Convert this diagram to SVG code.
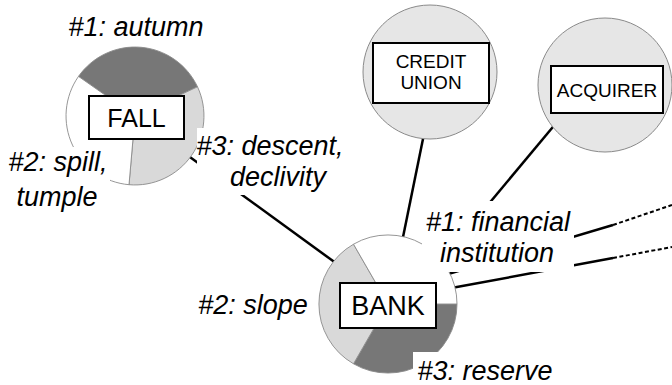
<svg xmlns="http://www.w3.org/2000/svg" width="672" height="385" viewBox="0 0 672 385">
<style>
  .bg{fill:#fff}
  .sec{stroke:#8a8a8a;stroke-width:0.9}
  .dark{fill:#777}
  .light{fill:#d9d9d9}
  .white{fill:#fff}
  .circ{fill:#e6e6e6;stroke:#8a8a8a;stroke-width:1}
  .box{fill:#fff;stroke:#000;stroke-width:2}
  .conn{stroke:#000;stroke-width:2.5;fill:none;stroke-linecap:butt}
  .dash{stroke:#000;stroke-width:2;fill:none;stroke-dasharray:4 2.5}
  .lbl{font-family:"Liberation Sans",Arial,sans-serif;font-style:italic;font-size:27px;fill:#000;text-anchor:middle}
  .word{font-family:"Liberation Sans",Arial,sans-serif;fill:#000;text-anchor:middle}
</style>
<rect width="672" height="385" fill="#fff"/>
<g id="connectors">
  <line class="conn" x1="185" y1="153.4" x2="340" y2="266.1"/>
  <line class="conn" x1="424" y1="134" x2="402" y2="242"/>
  <line class="conn" x1="556" y1="123.2" x2="470" y2="226.4"/>
  <polyline class="conn" points="444,275.2 613,225"/>
  <polyline class="dash" points="613,225 672,205"/>
  <polyline class="conn" points="450,288.3 613,258"/>
  <polyline class="dash" points="613,258 672,247"/>
</g>
<g id="fall">
  <path class="sec dark" d="M135,116 L78.5,76.4 A69,69 0 0 1 197.5,86.8 Z"/>
  <path class="sec light" d="M135,116 L197.5,86.8 A69,69 0 0 1 129,184.7 Z"/>
  <path class="sec white" d="M135,116 L129,184.7 A69,69 0 0 1 78.5,76.4 Z"/>
  <rect class="box" x="89" y="96" width="95" height="43"/>
  <text class="word" x="136.5" y="127" font-size="25">FALL</text>
</g>
<g id="bank">
  <path class="sec dark" d="M388,304 L457,304 A69,69 0 0 1 353.5,363.8 Z"/>
  <path class="sec light" d="M388,304 L353.5,363.8 A69,69 0 0 1 353.5,244.2 Z"/>
  <path class="sec white" d="M388,304 L353.5,244.2 A69,69 0 0 1 457,304 Z"/>
  <rect class="box" x="340" y="283" width="96" height="45"/>
  <text class="word" x="388" y="315" font-size="27">BANK</text>
</g>
<g id="credit-union">
  <circle class="circ" cx="430" cy="72" r="67"/>
  <rect class="box" x="373" y="43" width="116" height="60"/>
  <text class="word" x="431" y="68" font-size="19">CREDIT</text>
  <text class="word" x="431" y="89" font-size="19">UNION</text>
</g>
<g id="acquirer">
  <circle class="circ" cx="605" cy="85" r="67"/>
  <rect class="box" x="551" y="66" width="112" height="47"/>
  <text class="word" x="607" y="97" font-size="19">ACQUIRER</text>
</g>
<g id="labels">
  <text class="lbl" x="136" y="36">#1: autumn</text>
  <rect class="bg" x="4" y="147" width="106" height="66"/>
  <text class="lbl" x="58" y="171">#2: spill,</text>
  <text class="lbl" x="57" y="206">tumple</text>
  <rect class="bg" x="197" y="128" width="146" height="67"/>
  <text class="lbl" x="270" y="155">#3: descent,</text>
  <text class="lbl" x="278" y="186">declivity</text>
  <rect class="bg" x="422" y="201" width="152" height="71"/>
  <text class="lbl" x="498" y="231">#1: financial</text>
  <text class="lbl" x="497" y="262">institution</text>
  <text class="lbl" x="253" y="314">#2: slope</text>
  <rect class="bg" x="413" y="352" width="146" height="33"/>
  <text class="lbl" x="485" y="380">#3: reserve</text>
</g>
</svg>
